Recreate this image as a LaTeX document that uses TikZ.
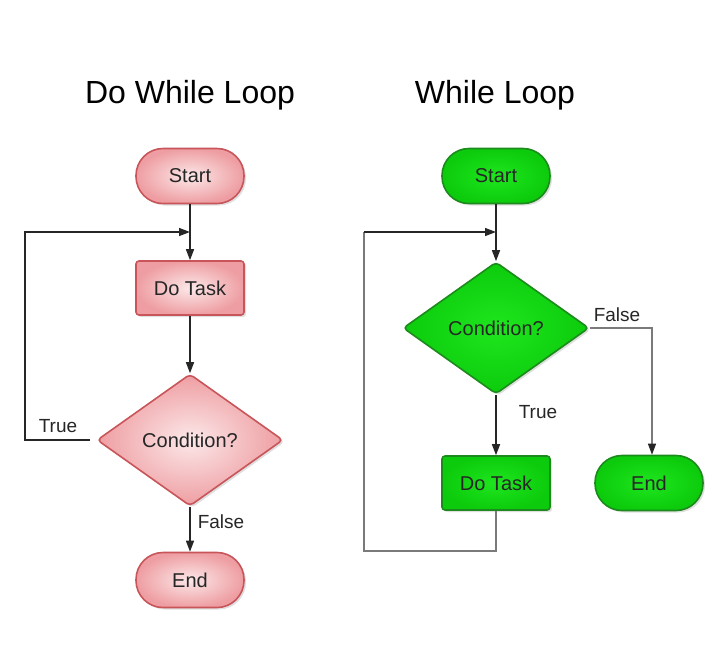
\documentclass[tikz,border=0pt]{standalone}
\usepackage{fontspec}
\setmainfont{Liberation Sans}
\usepackage{tikz}
\usetikzlibrary{shapes.geometric,shadows,arrows.meta}
\definecolor{dwpink}{HTML}{FCE8E9}
\definecolor{dwrose}{HTML}{EE9EA2}
\definecolor{dwred}{HTML}{C8555A}
\definecolor{wlgreen}{HTML}{1EE61E}
\definecolor{wlmid}{HTML}{0CCB0C}
\definecolor{wldark}{HTML}{1C8A1C}
\definecolor{wlgray}{HTML}{7A7A7A}

\begin{document}
\begin{tikzpicture}[x=1pt, y=-1pt,
  txt/.style={font=\fontsize{20}{22}\selectfont, text=black!85},
  redbox/.style={txt, draw=dwred, line width=1.6pt, inner color=dwpink, outer color=dwrose,
    drop shadow={shadow xshift=2pt, shadow yshift=-2pt, opacity=0.25}},
  greenbox/.style={txt, draw=wldark, line width=1.6pt, inner color=wlgreen, outer color=wlmid,
    drop shadow={shadow xshift=2pt, shadow yshift=-2pt, opacity=0.25}},
  term/.style={rectangle, minimum width=108pt, minimum height=55pt, rounded corners=27pt},
  task/.style={rectangle, minimum width=108pt, minimum height=54pt, rounded corners=3pt},
  cond/.style={diamond, minimum width=186pt, minimum height=132pt, inner sep=0pt, rounded corners=4pt},
  flow/.style={line width=1.4pt, black!85, -{Triangle[length=11pt, width=8pt]}},
  back/.style={line width=1.2pt, black!85},
  greyflow/.style={line width=1.2pt, wlgray, -{Triangle[length=11pt, width=8pt, color=black!85]}},
  lbl/.style={font=\fontsize{19}{21}\selectfont, text=black!85}]
  \useasboundingbox (0,0) rectangle (719,649);

  % do while loop
  \node[font=\fontsize{32}{34}\selectfont] (dwtitle) at (190,95) {Do While Loop};
  \node[redbox, term] (dwstart) at (190,176) {Start};
  \node[redbox, task] (dwtask) at (190,288) {Do Task};
  \node[redbox, cond] (dwcond) at (190,440) {Condition?};
  \node[redbox, term] (dwend) at (190,580) {End};
  \coordinate (dwjoin) at (190,232);
  \coordinate (dwleft) at (25,232);
  \coordinate (dwcorner) at (25,440);
  \draw[back] (dwstart) -- (dwjoin);
  \draw[flow] (dwjoin) -- (dwtask);
  \draw[flow] (dwtask) -- (dwcond);
  \draw[flow] (dwcond) -- (dwend);
  \draw[flow] ([xshift=-6pt]dwcond.west) -- (dwcorner) -- (dwleft) -- (dwjoin);
  \node[lbl] (dwtrue) at (58,426) {True};
  \node[lbl] (dwfalse) at (221,522) {False};

  % while loop
  \node[font=\fontsize{32}{34}\selectfont] (wltitle) at (495,95) {While Loop};
  \node[greenbox, term] (wlstart) at (496,176) {Start};
  \node[greenbox, cond] (wlcond) at (496,328) {Condition?};
  \node[greenbox, task] (wltask) at (496,483) {Do Task};
  \node[greenbox, term] (wlend) at (649,483) {End};
  \coordinate (wljoin) at (496,232);
  \coordinate (wlleft) at (364,232);
  \coordinate (wlbottom) at (364,551);
  \coordinate (wlbelow) at (496,551);
  \coordinate (wlright) at (652,328);
  \draw[back] (wlstart) -- (wljoin);
  \draw[flow] (wljoin) -- (wlcond);
  \draw[flow] (wlcond) -- (wltask);
  \draw[greyflow] (wlcond.east) -- (wlright) -- (wlright |- wlend.north);
  \draw[back, wlgray] (wltask) -- (wlbelow) -- (wlbottom) -- (wlleft);
  \draw[flow] (wlleft) -- (wljoin);
  \node[lbl] (wltrue) at (538,412) {True};
  \node[lbl] (wlfalse) at (617,315) {False};
\end{tikzpicture}
\end{document}
